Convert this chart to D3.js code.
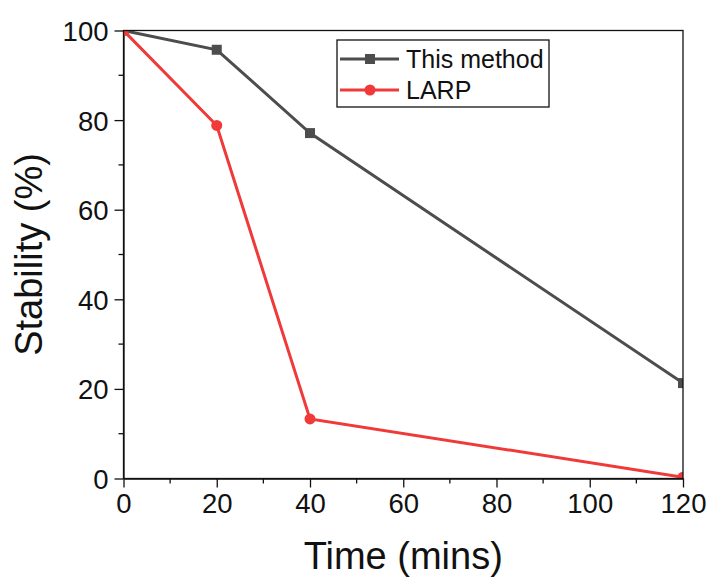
<!DOCTYPE html>
<html>
<head>
<meta charset="utf-8">
<script src="https://cdn.jsdelivr.net/npm/d3@7"></script>
<style>
  body { margin: 0; background: #fff; }
  text { font-family: Arial, "Liberation Sans", sans-serif; fill: #111; }
</style>
</head>
<body>
<script>
var times = [0, 20, 40, 120];
var thisMethod = [100, 95.7, 77.1, 21.3];
var larp = [100, 78.8, 13.3, 0.3];
var seriesNames = ["This method", "LARP"];
var xTicks = [0, 20, 40, 60, 80, 100, 120];
var yTicks = [0, 20, 40, 60, 80, 100];

var margin = {top: 30.5, bottom: 100.5, left: 123.5, right: 28};
var W = 711, H = 579;
var w = W - margin.left - margin.right,
    h = H - margin.top - margin.bottom;

var svg = d3.select("body")
            .append("svg")
              .attr("width", W)
              .attr("height", H)
            .append("g")
              .attr("transform", "translate(" + margin.left + "," + margin.top + ")");

var xScale = d3.scaleLinear().domain([0, 120]).range([0, w]);
var yScale = d3.scaleLinear().domain([0, 100]).range([h, 0]);

// clip markers to the plot frame
svg.append("clipPath").attr("id", "plotclip")
  .append("rect").attr("width", w).attr("height", h);

// minor ticks
var xMinor = d3.range(10, 120, 20);
var yMinor = d3.range(10, 100, 20);
svg.append("g").selectAll("line").data(xMinor).enter().append("line")
    .attr("x1", d => xScale(d)).attr("x2", d => xScale(d))
    .attr("y1", h).attr("y2", h + 5)
    .attr("stroke", "#111").attr("stroke-width", 1.3);
svg.append("g").selectAll("line").data(yMinor).enter().append("line")
    .attr("x1", 0).attr("x2", -5)
    .attr("y1", d => yScale(d)).attr("y2", d => yScale(d))
    .attr("stroke", "#111").attr("stroke-width", 1.3);

// axes
var xAxis = d3.axisBottom(xScale).tickValues(xTicks).tickSize(9).tickPadding(6).tickSizeOuter(0);
var yAxis = d3.axisLeft(yScale).tickValues(yTicks).tickSize(9).tickPadding(6).tickSizeOuter(0);

var gx = svg.append("g").attr("transform", "translate(0," + h + ")").call(xAxis);
var gy = svg.append("g").call(yAxis);
[gx, gy].forEach(function(g) {
  g.select(".domain").attr("stroke", "#111").attr("stroke-width", 1.3);
  g.selectAll(".tick line").attr("stroke", "#111").attr("stroke-width", 1.3);
  g.selectAll(".tick text").style("font-size", "27.5px").attr("fill", "#1a1a1a");
});
gy.selectAll(".tick text").attr("dy", "0.36em");

// axis titles
svg.append("text")
    .attr("x", w / 2).attr("y", h + 90)
    .attr("text-anchor", "middle")
    .style("font-size", "38px")
    .text("Time (mins)");
svg.append("text")
    .attr("transform", "translate(" + (-82) + "," + (h / 2) + ") rotate(-90)")
    .attr("text-anchor", "middle")
    .style("font-size", "38px")
    .text("Stability (%)");

// series
var series = [
  {name: seriesNames[0], values: thisMethod, color: "#4d4d4d", shape: "square"},
  {name: seriesNames[1], values: larp, color: "#f03a3a", shape: "circle"}
];

var line = d3.line()
    .x(function(d, i) { return xScale(times[i]); })
    .y(function(d) { return yScale(d); });

var plot = svg.append("g").attr("clip-path", "url(#plotclip)");
series.forEach(function(s) {
  plot.append("path")
      .datum(s.values)
      .attr("d", line)
      .attr("fill", "none")
      .attr("stroke", s.color)
      .attr("stroke-width", 3);
  var g = plot.append("g");
  if (s.shape === "square") {
    g.selectAll("rect").data(s.values).enter().append("rect")
        .attr("x", function(d, i) { return xScale(times[i]) - 5; })
        .attr("y", function(d) { return yScale(d) - 5; })
        .attr("width", 10).attr("height", 10)
        .attr("fill", s.color);
  } else {
    g.selectAll("circle").data(s.values).enter().append("circle")
        .attr("cx", function(d, i) { return xScale(times[i]); })
        .attr("cy", function(d) { return yScale(d); })
        .attr("r", 5.5)
        .attr("fill", s.color);
  }
});

// frame
svg.append("rect")
    .attr("width", w).attr("height", h)
    .attr("fill", "none").attr("stroke", "#111").attr("stroke-width", 1.3);

// legend
var lx = 337 - margin.left, ly = 40 - margin.top;
var legend = svg.append("g").attr("transform", "translate(" + lx + "," + ly + ")");
legend.append("rect")
    .attr("width", 212).attr("height", 67)
    .attr("fill", "#fff").attr("stroke", "#111").attr("stroke-width", 1.3);
series.forEach(function(s, i) {
  var yy = 19 + i * 31;
  legend.append("line")
      .attr("x1", 3).attr("x2", 62).attr("y1", yy).attr("y2", yy)
      .attr("stroke", s.color).attr("stroke-width", 3);
  if (s.shape === "square") {
    legend.append("rect").attr("x", 28).attr("y", yy - 5).attr("width", 10).attr("height", 10).attr("fill", s.color);
  } else {
    legend.append("circle").attr("cx", 33).attr("cy", yy).attr("r", 5.5).attr("fill", s.color);
  }
  legend.append("text")
      .attr("x", 69).attr("y", yy).attr("dy", "0.36em")
      .style("font-size", "25px")
      .text(s.name);
});
</script>
</body>
</html>
